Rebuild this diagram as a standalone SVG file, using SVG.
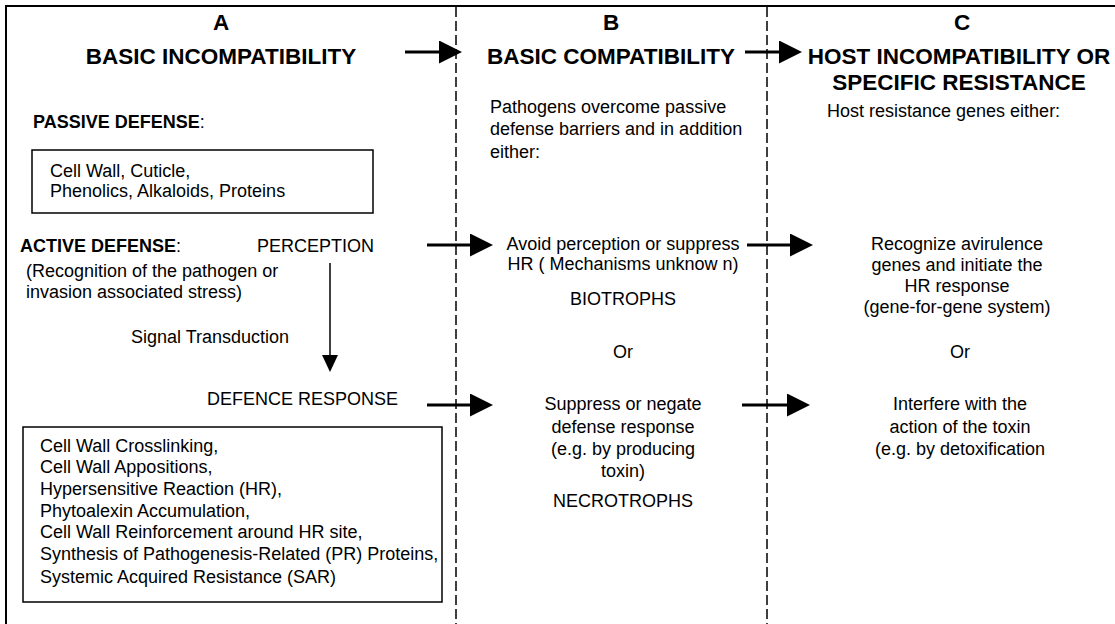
<svg xmlns="http://www.w3.org/2000/svg" width="1115" height="624" viewBox="0 0 1115 624">
  <style>
    text { font-family: "Liberation Sans", Arial, sans-serif; fill: #000; }
    .t { font-size: 18px; }
    .c { font-size: 18px; text-anchor: middle; }
    .h { font-size: 22.5px; font-weight: bold; text-anchor: middle; }
    .b { font-size: 18px; font-weight: bold; }
    .n { font-weight: normal; }
    .box { fill: none; stroke: #000; stroke-width: 1.5; }
    .frame { fill: none; stroke: #000; stroke-width: 2; }
    .div { stroke: #000; stroke-width: 1.5; stroke-dasharray: 10 4; fill: none; }
    .arr { stroke: #000; stroke-width: 3; fill: none; marker-end: url(#ah); }
    .varr { stroke: #000; stroke-width: 1.5; fill: none; marker-end: url(#vh); }
  </style>
  <defs>
    <marker id="ah" markerUnits="userSpaceOnUse" markerWidth="23" markerHeight="23" viewBox="0 0 23 23" refX="0" refY="11.5" orient="auto">
      <path d="M0,0 L23,11.5 L0,23 Z" fill="#000"/>
    </marker>
    <marker id="vh" markerUnits="userSpaceOnUse" markerWidth="17" markerHeight="16" viewBox="0 0 17 16" refX="0" refY="8" orient="auto">
      <path d="M0,0 L17,8 L0,16 Z" fill="#000"/>
    </marker>
  </defs>
  <rect width="1115" height="624" fill="#fff"/>

  <g id="frame">
    <path class="frame" d="M6,624 L6,6 L1115,6"/>
    <line class="div" x1="456" y1="7" x2="456" y2="624"/>
    <line class="div" x1="767" y1="7" x2="767" y2="624"/>
  </g>

  <g id="colA-header">
    <text class="h" x="221" y="30">A</text>
    <text class="h" x="221" y="64">BASIC INCOMPATIBILITY</text>
  </g>
  <g id="colB-header">
    <text class="h" x="611" y="30">B</text>
    <text class="h" x="611" y="64">BASIC COMPATIBILITY</text>
    <text class="t" x="490" y="113">Pathogens overcome passive</text>
    <text class="t" x="490" y="135">defense barriers and in addition</text>
    <text class="t" x="490" y="158">either:</text>
  </g>
  <g id="colC-header">
    <text class="h" x="962" y="30">C</text>
    <text class="h" x="959" y="64">HOST INCOMPATIBILITY OR</text>
    <text class="h" x="959" y="90">SPECIFIC RESISTANCE</text>
    <text class="t" x="827" y="117">Host resistance genes either:</text>
  </g>

  <g id="passive-defense">
    <text class="b" x="33" y="128">PASSIVE DEFENSE<tspan class="n">:</tspan></text>
  </g>
  <g id="passive-box">
    <rect class="box" x="32" y="150" width="341" height="63"/>
    <text class="t" x="50" y="177">Cell Wall, Cuticle,</text>
    <text class="t" x="50" y="197">Phenolics, Alkaloids, Proteins</text>
  </g>

  <g id="active-defense">
    <text class="b" x="20" y="252">ACTIVE DEFENSE<tspan class="n">:</tspan></text>
    <text class="t" x="26" y="277">(Recognition of the pathogen or</text>
    <text class="t" x="26" y="298">invasion associated stress)</text>
  </g>
  <g id="perception">
    <text class="t" x="257" y="252">PERCEPTION</text>
  </g>
  <g id="signal-label">
    <text class="t" x="131" y="343">Signal Transduction</text>
  </g>
  <g id="defence-response">
    <text class="t" x="207" y="405">DEFENCE RESPONSE</text>
  </g>
  <g id="response-box">
    <rect class="box" x="23" y="427" width="419" height="175"/>
    <text class="t" x="40" y="452">Cell Wall Crosslinking,</text>
    <text class="t" x="40" y="473">Cell Wall Appositions,</text>
    <text class="t" x="40" y="495">Hypersensitive Reaction (HR),</text>
    <text class="t" x="40" y="517">Phytoalexin Accumulation,</text>
    <text class="t" x="40" y="538">Cell Wall Reinforcement around HR site,</text>
    <text class="t" x="40" y="560">Synthesis of Pathogenesis-Related (PR) Proteins,</text>
    <text class="t" x="40" y="583">Systemic Acquired Resistance (SAR)</text>
  </g>

  <g id="biotrophs">
    <text class="c" x="623" y="250">Avoid perception or suppress</text>
    <text class="c" x="623" y="270">HR ( Mechanisms unknow n)</text>
    <text class="c" x="623" y="305">BIOTROPHS</text>
  </g>
  <g id="or-b">
    <text class="c" x="623" y="358">Or</text>
  </g>
  <g id="necrotrophs">
    <text class="c" x="623" y="410">Suppress or negate</text>
    <text class="c" x="623" y="433">defense response</text>
    <text class="c" x="623" y="455">(e.g. by producing</text>
    <text class="c" x="623" y="477">toxin)</text>
    <text class="c" x="623" y="507">NECROTROPHS</text>
  </g>

  <g id="recognize">
    <text class="c" x="957" y="250">Recognize avirulence</text>
    <text class="c" x="957" y="271">genes and initiate the</text>
    <text class="c" x="957" y="292">HR response</text>
    <text class="c" x="957" y="313">(gene-for-gene system)</text>
  </g>
  <g id="or-c">
    <text class="c" x="960" y="358">Or</text>
  </g>
  <g id="interfere">
    <text class="c" x="960" y="410">Interfere with the</text>
    <text class="c" x="960" y="433">action of the toxin</text>
    <text class="c" x="960" y="455">(e.g. by detoxification</text>
  </g>

  <g id="connectors">
    <line class="arr" x1="405" y1="52" x2="439" y2="52"/>
    <line class="arr" x1="745" y1="52" x2="779" y2="52"/>
    <line class="arr" x1="427" y1="245" x2="470" y2="245"/>
    <line class="arr" x1="747" y1="245" x2="790" y2="245"/>
    <line class="arr" x1="427" y1="405" x2="470" y2="405"/>
    <line class="arr" x1="742" y1="405" x2="787" y2="405"/>
    <line class="varr" x1="330" y1="263" x2="330" y2="355"/>
  </g>
</svg>
